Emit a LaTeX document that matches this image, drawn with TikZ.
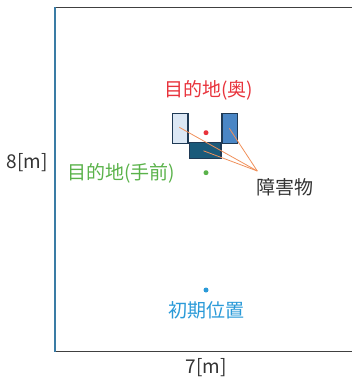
\documentclass[tikz,border=0pt]{standalone}
\usepackage{fontspec}
\setmainfont{Noto Sans CJK JP}
\definecolor{framegray}{HTML}{404040}
\definecolor{frameblue}{HTML}{3A7CA5}
\definecolor{navy}{HTML}{1F3A55}
\definecolor{lightbox}{HTML}{DCE8F5}
\definecolor{midbox}{HTML}{4A86C5}
\definecolor{darkbox}{HTML}{1A5A7A}
\definecolor{goalred}{HTML}{E8333C}
\definecolor{goalgreen}{HTML}{5AB24A}
\definecolor{startblue}{HTML}{2A9AD8}
\definecolor{leader}{HTML}{F0905A}
\definecolor{textgray}{HTML}{333333}
\begin{document}
\begin{tikzpicture}[x=1pt,y=-1pt,
  obst/.style={draw=navy,line width=1.1pt,inner sep=0pt},
  lbl/.style={font=\fontsize{19}{22}\selectfont,inner sep=0pt},
  dot/.style={circle,inner sep=0pt,minimum size=5pt},
  lead/.style={draw=leader,line width=0.8pt}]
\useasboundingbox (0,0) rectangle (352,381);
% frame
\draw[framegray,line width=1.6pt] (55,7.5) -- (353,7.5);
\draw[framegray,line width=1.6pt] (55,351.5) -- (353,351.5);
\draw[frameblue,line width=1.6pt] (55,7) -- (55,352.3);
% obstacles
\node[obst,fill=lightbox,minimum width=15.7pt,minimum height=30pt] (o1) at (180.15,128.3) {};
\node[obst,fill=midbox,minimum width=15.7pt,minimum height=30pt] (o2) at (229.85,128.3) {};
\node[obst,fill=darkbox,minimum width=31.3pt,minimum height=16pt] (o3) at (205.35,150.3) {};
% dots
\node[dot,fill=goalred] (red) at (206,132.7) {};
\node[dot,fill=goalgreen] (green) at (206,172.7) {};
\node[dot,fill=startblue] (blue) at (206,290) {};
% labels
\node[lbl,text=goalred] (lred) at (209,90) {目的地(奥)};
\node[lbl,text=goalgreen] (lgreen) at (121,173) {目的地(手前)};
\node[lbl,text=startblue] (lblue) at (206,310) {初期位置};
\node[lbl,text=textgray,anchor=west] (lobs) at (256,187) {障害物};
\node[lbl,text=textgray] (ly) at (27,163) {8[m]};
\node[lbl,text=textgray] (lx) at (206,368) {7[m]};
% leaders
\coordinate (tip) at (257.3,171);
\draw[lead] (179.3,127.3) -- (tip);
\draw[lead] (229.3,128.3) -- (tip);
\draw[lead] (203.5,150.8) -- (tip);
\end{tikzpicture}
\end{document}
